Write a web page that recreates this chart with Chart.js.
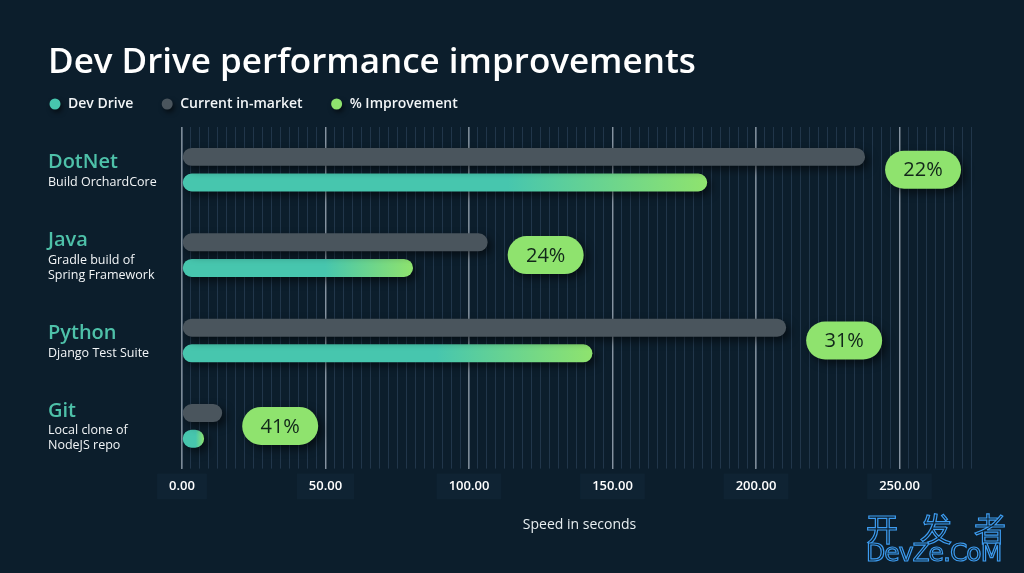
<!DOCTYPE html>
<html>
<head>
<meta charset="utf-8">
<script src="https://cdn.jsdelivr.net/npm/chart.js@4.4.0/dist/chart.umd.min.js"></script>
<style>
    html, body { margin: 0; padding: 0; background: #0c1e2c; }
    #wrap { position: relative; width: 1024px; height: 573px; }
    .wm { position: absolute; left: 866px; color: #0c1e2c; -webkit-text-stroke: 1.2px #3d9cf0; white-space: nowrap; }
    .wm1 { top: 504px; font: 32px "Noto Sans CJK SC", sans-serif; letter-spacing: 22px; }
    .wm2 { top: 538px; font: 25px "DejaVu Sans", sans-serif; letter-spacing: -1px; }
</style>
</head>
<body>
<div id="wrap">
    <canvas id="chart"></canvas>
    <div class="wm wm1">开发者</div>
    <div class="wm wm2">DevZe.CoM</div>
</div>
<script>
const categories = ['DotNet', 'Java', 'Python', 'Git'];
const subtitles = [['Build OrchardCore'], ['Gradle build of', 'Spring Framework'], ['Django Test Suite'], ['Local clone of', 'NodeJS repo']];
const currentInMarket = [238, 106.5, 210.5, 14];
const devDrive = [183, 80.5, 143, 7.7];
const improvement = ['22%', '24%', '31%', '41%'];
const legendNames = ['Dev Drive', 'Current in-market', '% Improvement'];

const FONT = "'Segoe UI', 'Open Sans', 'Noto Sans', sans-serif";
const TEAL = '#47c6ae';
const GREEN = '#8fe36e';
const GRAY = '#4a555d';
const legendColors = [TEAL, GRAY, GREEN];

// teal bar that turns green near its end
const devGradient = function (ctx) {
    const chart = ctx.chart;
    if (!chart.chartArea || ctx.type !== 'data') return TEAL;
    const xs = chart.scales.x;
    const x0 = xs.getPixelForValue(0);
    const x1 = xs.getPixelForValue(ctx.raw);
    const g = chart.ctx.createLinearGradient(x0, 0, x1, 0);
    g.addColorStop(0, TEAL);
    g.addColorStop(0.62, TEAL);
    g.addColorStop(1, GREEN);
    return g;
}

const shadow = function (c, blur, dx, dy) {
    c.shadowColor = 'rgba(0,0,0,0.55)';
    c.shadowBlur = blur;
    c.shadowOffsetX = dx;
    c.shadowOffsetY = dy;
}

const pill = function (c, x, y, w, h) {
    const r = h / 2;
    c.beginPath();
    c.moveTo(x + r, y);
    c.lineTo(x + w - r, y);
    c.arc(x + w - r, y + r, r, -Math.PI / 2, Math.PI / 2);
    c.lineTo(x + r, y + h);
    c.arc(x + r, y + r, r, Math.PI / 2, Math.PI * 1.5);
    c.closePath();
}

const barShadow = {
    id: 'barShadow',
    beforeDatasetsDraw: function (chart) {
        chart.ctx.save();
        shadow(chart.ctx, 8, 4, 4);
    },
    afterDatasetsDraw: function (chart) {
        chart.ctx.restore();
    }
}

const extras = {
    id: 'extras',
    afterDraw: function (chart) {
        const c = chart.ctx;
        const xs = chart.scales.x;
        const ys = chart.scales.y;

        // legend row
        c.save();
        c.font = '600 14px ' + FONT;
        c.textBaseline = 'middle';
        var lx = 55;
        legendNames.forEach(function (name, i) {
            c.save();
            shadow(c, 5, 2, 3);
            c.fillStyle = legendColors[i];
            c.beginPath();
            c.arc(lx, 104, 5.5, 0, Math.PI * 2);
            c.fill();
            c.restore();
            c.fillStyle = '#f2f5f7';
            c.fillText(name, lx + 13, 104);
            lx = lx + 13 + c.measureText(name).width + 34;
        });
        c.restore();

        // category labels
        c.save();
        c.textBaseline = 'middle';
        categories.forEach(function (name, i) {
            const yc = ys.getPixelForValue(i);
            const n = subtitles[i].length;
            const ny = yc - 7 - 8 * (n - 1);
            c.font = '600 20px ' + FONT;
            c.fillStyle = '#4ec1a9';
            c.fillText(name, 48, ny);
            c.font = '12.5px ' + FONT;
            c.fillStyle = '#f2f5f7';
            subtitles[i].forEach(function (s, k) {
                c.fillText(s, 48, ny + 20 + 15 * k);
            });
        });
        c.restore();

        // % improvement pills
        c.save();
        categories.forEach(function (name, i) {
            const yc = ys.getPixelForValue(i);
            const xe = xs.getPixelForValue(Math.max(currentInMarket[i], devDrive[i]));
            const px = xe + 20;
            c.save();
            shadow(c, 8, 4, 4);
            c.fillStyle = GREEN;
            pill(c, px, yc - 19, 76, 38);
            c.fill();
            c.restore();
            c.font = '20px ' + FONT;
            c.fillStyle = '#11261a';
            c.textAlign = 'center';
            c.textBaseline = 'middle';
            c.fillText(improvement[i], px + 38, yc + 1);
        });
        c.restore();
    }
}

const renderChart = function () {
    const canvas = document.getElementById('chart').getContext('2d');
    return new Chart(canvas, {
        type: 'bar',
        data: {
            labels: categories,
            datasets: [
                {
                    label: legendNames[1],
                    data: currentInMarket,
                    backgroundColor: GRAY,
                    borderRadius: 9,
                    borderSkipped: false,
                    categoryPercentage: 0.6,
                    barPercentage: 0.7,
                    xAxisID: 'x'
                },
                {
                    label: legendNames[0],
                    data: devDrive,
                    backgroundColor: devGradient,
                    borderRadius: 9,
                    borderSkipped: false,
                    categoryPercentage: 0.6,
                    barPercentage: 0.7,
                    xAxisID: 'x'
                }
            ]
        },
        options: {
            indexAxis: 'y',
            responsive: true,
            maintainAspectRatio: false,
            animation: false,
            layout: { padding: { left: 48, right: 47, top: 0, bottom: 20 } },
            plugins: {
                legend: { display: false },
                tooltip: { enabled: false },
                title: {
                    display: true,
                    text: 'Dev Drive performance improvements',
                    align: 'start',
                    color: '#ffffff',
                    font: { family: FONT, size: 35, weight: '600' },
                    padding: { top: 42, bottom: 43 }
                }
            },
            scales: {
                y: {
                    type: 'category',
                    ticks: { display: false },
                    grid: { display: false },
                    border: { display: false },
                    afterFit: function (scale) { scale.width = 134; }
                },
                xMinor: {
                    type: 'linear',
                    position: 'top',
                    min: 0,
                    max: 277,
                    ticks: { display: false, stepSize: 3.125, includeBounds: false },
                    grid: { color: '#21364a', lineWidth: 1, drawTicks: false },
                    border: { display: false }
                },
                x: {
                    type: 'linear',
                    position: 'bottom',
                    min: 0,
                    max: 277,
                    ticks: {
                        stepSize: 50,
                        includeBounds: false,
                        color: '#ffffff',
                        font: { family: FONT, size: 13, weight: '600' },
                        padding: 10,
                        callback: function (v) { return v.toFixed(2); },
                        showLabelBackdrop: true,
                        backdropColor: '#0f2333',
                        backdropPadding: { x: 12, y: 5 }
                    },
                    grid: { color: 'rgba(200,210,220,0.6)', lineWidth: 1.5, drawTicks: false },
                    border: { display: false },
                    title: {
                        display: true,
                        text: 'Speed in seconds',
                        color: '#e8eef1',
                        font: { family: FONT, size: 14 },
                        padding: { top: 12, bottom: 20 }
                    }
                }
            }
        },
        plugins: [barShadow, extras]
    });
}

renderChart();
</script>
</body>
</html>
